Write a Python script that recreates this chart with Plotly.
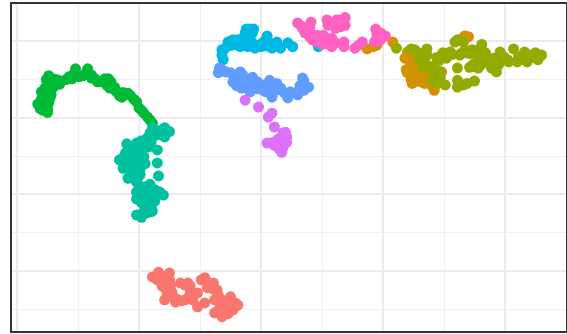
import plotly.graph_objects as go

red_x = [-8.9,-8.4,-7.5,-8.5,-8.0,-7.5,-7.7,-7.9,-7.0,-6.6,-6.0,-5.8,-6.2,-5.2,-5.6,-5.2,-7.3,-4.6,-3.9,-4.4,-3.6,-4.6,-3.8,-3.4,-2.5,-3.1,-1.9,-2.3,-3.8,-3.2,-2.8,-3.4,
         -8.7,-8.2,-7.9,-8.1,-7.8,-7.4,-7.5,-7.2,-6.9,-6.5,-5.9,-5.6,-6.2,-5.8,-4.9,-4.3,-3.9,-3.5,-3.0,-2.6,-2.1,-2.9,-3.5,-3.1,-2.7,-2.2]
red_y = [-10.8,-10.2,-10.3,-11.2,-11.6,-11.2,-12.8,-13.8,-14.1,-11.6,-11.6,-12.9,-13.8,-14.7,-13.8,-12.9,-12.8,-10.9,-11.6,-12.2,-12.5,-14.2,-13.8,-13.8,-13.4,-14.1,-14.5,-15.1,-15.5,-16.0,-15.1,-14.9,
         -10.9,-11.0,-10.8,-12.0,-12.3,-11.9,-13.2,-13.4,-13.7,-13.9,-13.4,-13.0,-11.9,-12.0,-11.2,-11.6,-12.4,-13.2,-13.9,-13.9,-14.2,-14.7,-15.4,-15.6,-15.6,-14.8]

orange_x = [8.7,9.2,9.5,10.8,16.7,17.0,11.8,12.0,12.5,12.0,12.4,12.6,13.0,13.4,14.2,13.9,14.8,12.4,13.2,16.3,
            12.2,12.6,12.8,12.5,12.3,12.7,13.1,13.6,13.8,14.0,13.1,14.3,11.9]
orange_y = [19.0,19.3,19.5,19.9,20.7,20.6,17.8,18.6,17.8,15.9,14.5,16.5,15.2,14.5,13.6,15.3,16.0,15.2,16.0,20.2,
            17.4,17.0,16.0,15.7,15.0,14.8,14.7,15.5,14.9,14.2,15.6,15.5,16.3]

olive_x = [11.1,12.3,12.6,13.6,13.0,13.3,13.6,14.4,14.9,15.5,15.2,14.3,14.0,14.7,15.1,14.5,16.1,16.6,15.9,18.1,16.1,16.3,17.3,16.9,17.7,18.4,17.1,17.7,17.8,18.4,18.9,19.3,19.6,19.4,20.2,20.7,21.0,21.6,21.8,22.5,23.0,22.7,21.2,16.1,16.1,16.6,16.9,17.5,
           12.9,13.4,14.0,14.6,15.2,15.7,16.4,16.7,17.1,17.6,17.4,18.1,17.5,18.0,18.8,19.1,19.5,19.9,20.3,21.1,21.4,22.0,22.2,14.2,14.6]
olive_y = [19.1,19.0,18.9,19.0,17.6,16.5,18.2,17.9,18.5,18.6,17.8,16.0,14.9,15.3,14.3,14.5,20.2,19.9,19.9,19.6,16.5,18.2,18.9,18.5,18.2,18.5,16.6,17.3,16.5,17.3,16.5,16.0,18.6,17.6,17.6,19.0,17.3,18.6,17.3,18.5,18.2,17.6,17.8,14.9,14.0,14.3,14.5,14.8,
           18.5,17.6,16.7,17.5,18.4,18.3,18.4,18.8,18.4,18.8,17.0,17.6,16.7,16.9,17.2,17.8,17.0,18.0,17.3,17.9,18.1,18.2,17.9,15.7,16.1]

green_x = [-18.1,-18.3,-17.9,-17.5,-17.7,-17.4,-18.0,-17.6,-17.3,-18.0,-17.7,-17.2,-17.6,-17.4,-17.1,-16.9,-16.6,-16.5,-16.0,-15.7,-15.3,-15.2,-14.9,-14.6,-14.3,-14.2,-13.9,-13.6,-13.4,-13.1,-12.8,-12.5,-12.3,-12.4,-12.0,-11.7,-11.6,-11.3,-10.9,-10.7,-10.4,-10.2,-10.0,-9.8,-9.6,-9.3,-9.1,-8.9,
           -17.5,-17.8,-17.5,-17.3,-17.2,-17.0,-16.8,-15.5,-13.9,-12.6,-11.9,-11.4]
green_y = [11.2,11.8,11.0,10.7,11.6,12.0,12.4,12.8,13.4,13.4,13.9,14.3,15.0,15.5,15.1,14.7,14.9,14.4,15.0,15.4,15.8,16.4,15.4,15.5,16.0,16.4,15.6,15.1,14.7,14.7,15.1,15.1,14.7,13.9,14.0,13.3,12.9,13.3,13.2,12.9,12.4,12.1,11.3,11.0,10.6,10.1,9.7,9.3,
           12.2,11.1,11.2,12.6,13.0,14.0,15.0,15.1,15.2,14.2,13.5,12.7]

teal_x = [-8.9,-7.9,-7.9,-8.4,-9.1,-9.3,-9.8,-10.2,-11.0,-10.5,-9.7,-9.2,-8.5,-11.1,-11.6,-10.7,-9.9,-10.3,-11.1,-11.3,-10.7,-9.9,-10.3,-10.9,-10.3,-10.2,-8.5,-8.4,-9.9,-10.2,-9.5,-9.1,-8.7,-8.3,-8.0,-10.2,-9.5,-8.9,-9.8,-9.1,-8.7,-9.1,-9.4,-9.7,-10.2,-9.8,-9.3,
          -10.8,-10.2,-10.5,-9.6,-9.5,-9.9,-10.6,-10.8,-11.3,-11.2,-10.6,-10.1,-9.9,-10.2,-9.6,-9.0,-8.8,-8.4,-7.5,-9.7,-9.9,-9.3,-8.9,-9.4,-9.5,-9.0,-8.9,-9.6]
teal_y = [8.7,8.7,7.5,7.8,8.0,7.4,7.0,6.7,6.6,5.8,5.8,6.2,5.8,5.4,4.5,4.5,4.5,5.1,4.1,3.4,3.4,3.4,2.9,2.1,1.9,1.6,4.1,2.4,1.0,0.3,1.0,1.3,0.6,0.3,-0.1,-0.6,-0.2,-0.4,-1.1,-1.3,-0.9,-2.3,-2.1,-2.7,-2.7,-3.0,-2.4,
          5.2,4.0,3.8,4.9,4.0,2.6,2.8,4.9,4.8,3.7,2.4,2.2,5.3,6.2,6.5,6.9,7.6,8.3,8.2,0.6,-0.3,0.2,0.6,-0.8,-1.6,-1.8,-2.2,-2.3]

cyan_x = [-0.9,-1.3,-1.5,-0.9,-0.5,-0.7,0.5,0.2,-0.2,0.7,0.9,1.3,1.6,2.2,2.6,-2.0,-2.7,-2.3,-3.2,-2.8,-1.7,-1.1,-3.2,-3.1,4.7,
          -2.4,-1.9,-1.4,-1.0,-0.5,-1.1,-0.7,-0.6,-1.2,0.0,0.4,0.4,-3.0,-2.5,-1.9]
cyan_y = [21.6,21.1,20.4,20.6,19.1,19.8,20.7,19.9,19.5,19.8,19.1,19.9,19.1,19.8,19.3,19.9,19.9,20.2,18.9,19.3,19.3,19.3,18.2,17.6,19.3,
          19.5,19.5,20.0,19.8,19.4,20.9,21.1,21.6,21.6,19.3,20.2,19.4,19.0,20.0,20.2]

blue_x = [-3.4,-3.5,-3.1,-2.5,-1.7,-2.3,-1.5,-1.1,-0.7,-0.9,-0.3,-0.1,0.7,0.2,0.9,1.0,1.6,2.2,2.4,3.4,3.4,3.0,3.9,3.2,-1.9,-0.9,
          -2.9,-2.2,-1.9,-1.5,-1.2,-0.5,-0.3,0.2,0.5,0.4,0.8,1.2,1.3,1.9,2.1,3.2,3.5,3.0,3.5,-0.6,-1.6,-2.0]
blue_y = [16.5,15.9,16.2,15.9,16.0,14.7,15.6,13.9,15.3,13.4,14.7,13.9,14.9,13.6,12.7,14.3,13.9,12.6,13.4,15.2,14.5,13.0,14.0,13.6,15.2,14.5,
          16.0,15.3,14.9,14.9,14.7,14.2,13.8,14.3,14.3,13.4,14.0,13.6,14.5,13.3,13.0,14.2,13.6,13.4,14.9,14.9,13.9,14.2]

magenta_x = [-1.3,-0.2,0.6,0.9,1.1,2.0,1.7,0.5,1.0,1.7,1.4,2.1,2.1,1.8,1.1,1.6,1.9,1.3,1.5,2.0,1.8,1.4]
magenta_y = [12.3,11.4,10.1,10.6,8.8,8.1,7.5,6.7,6.8,5.5,6.4,6.8,7.5,6.1,6.4,7.0,7.0,6.6,5.9,7.7,8.0,7.2]

pink_x = [3.0,4.1,3.4,4.0,3.6,4.2,4.6,5.1,4.8,5.4,5.8,5.8,6.1,5.4,5.5,6.1,6.2,6.9,6.9,6.5,6.8,6.8,7.7,8.3,8.0,9.4,9.8,10.2,9.3,9.8,
          4.5,4.9,5.0,5.4,5.7,3.8,4.0,5.6,6.0,6.4,6.5,3.3,5.1,9.5,9.6,9.5]
pink_y = [22.4,22.5,21.7,21.7,21.1,20.2,20.8,20.8,19.9,20.2,20.4,19.3,19.8,22.8,22.1,21.7,22.8,23.1,22.1,22.4,19.9,19.3,19.1,19.9,19.5,21.6,21.1,20.7,19.9,20.2,
          20.0,20.4,19.6,19.7,19.9,21.0,20.6,22.4,22.3,22.8,21.9,22.0,20.2,20.5,20.0,21.1]

series = [
    (red_x, red_y, "#F8766D"),
    (orange_x, orange_y, "#D39200"),
    (olive_x, olive_y, "#93AA00"),
    (green_x, green_y, "#00BA38"),
    (teal_x, teal_y, "#00C19F"),
    (cyan_x, cyan_y, "#00B9E3"),
    (blue_x, blue_y, "#619CFF"),
    (magenta_x, magenta_y, "#DB72FB"),
    (pink_x, pink_y, "#FF61C3"),
]

fig = go.Figure()
for xs, ys, color in series:
    fig.add_trace(go.Scatter(x=xs, y=ys, mode="markers",
                             marker=dict(color=color, size=11, line=dict(width=0)),
                             showlegend=False, hoverinfo="skip"))

axis_common = dict(
    showticklabels=False, ticks="", zeroline=False,
    showgrid=True, gridcolor="#EBEBEB", gridwidth=1.6,
    showline=True, linecolor="#333333", linewidth=1.5, mirror=True,
    dtick=10, tick0=0,
    minor=dict(showgrid=True, gridcolor="#F0F0F0", gridwidth=1, dtick=5, tick0=0),
)
fig.update_xaxes(range=[-20.41, 25.0], **axis_common)
fig.update_yaxes(range=[-17.87, 24.88], **axis_common)
fig.update_layout(width=569, height=334,
                  margin=dict(l=12, r=1, t=4, b=3),
                  paper_bgcolor="white", plot_bgcolor="white")
fig.write_html("out.html", config=dict(displayModeBar=False),
               post_script="document.body.style.margin='0';document.documentElement.style.overflow='hidden';")
